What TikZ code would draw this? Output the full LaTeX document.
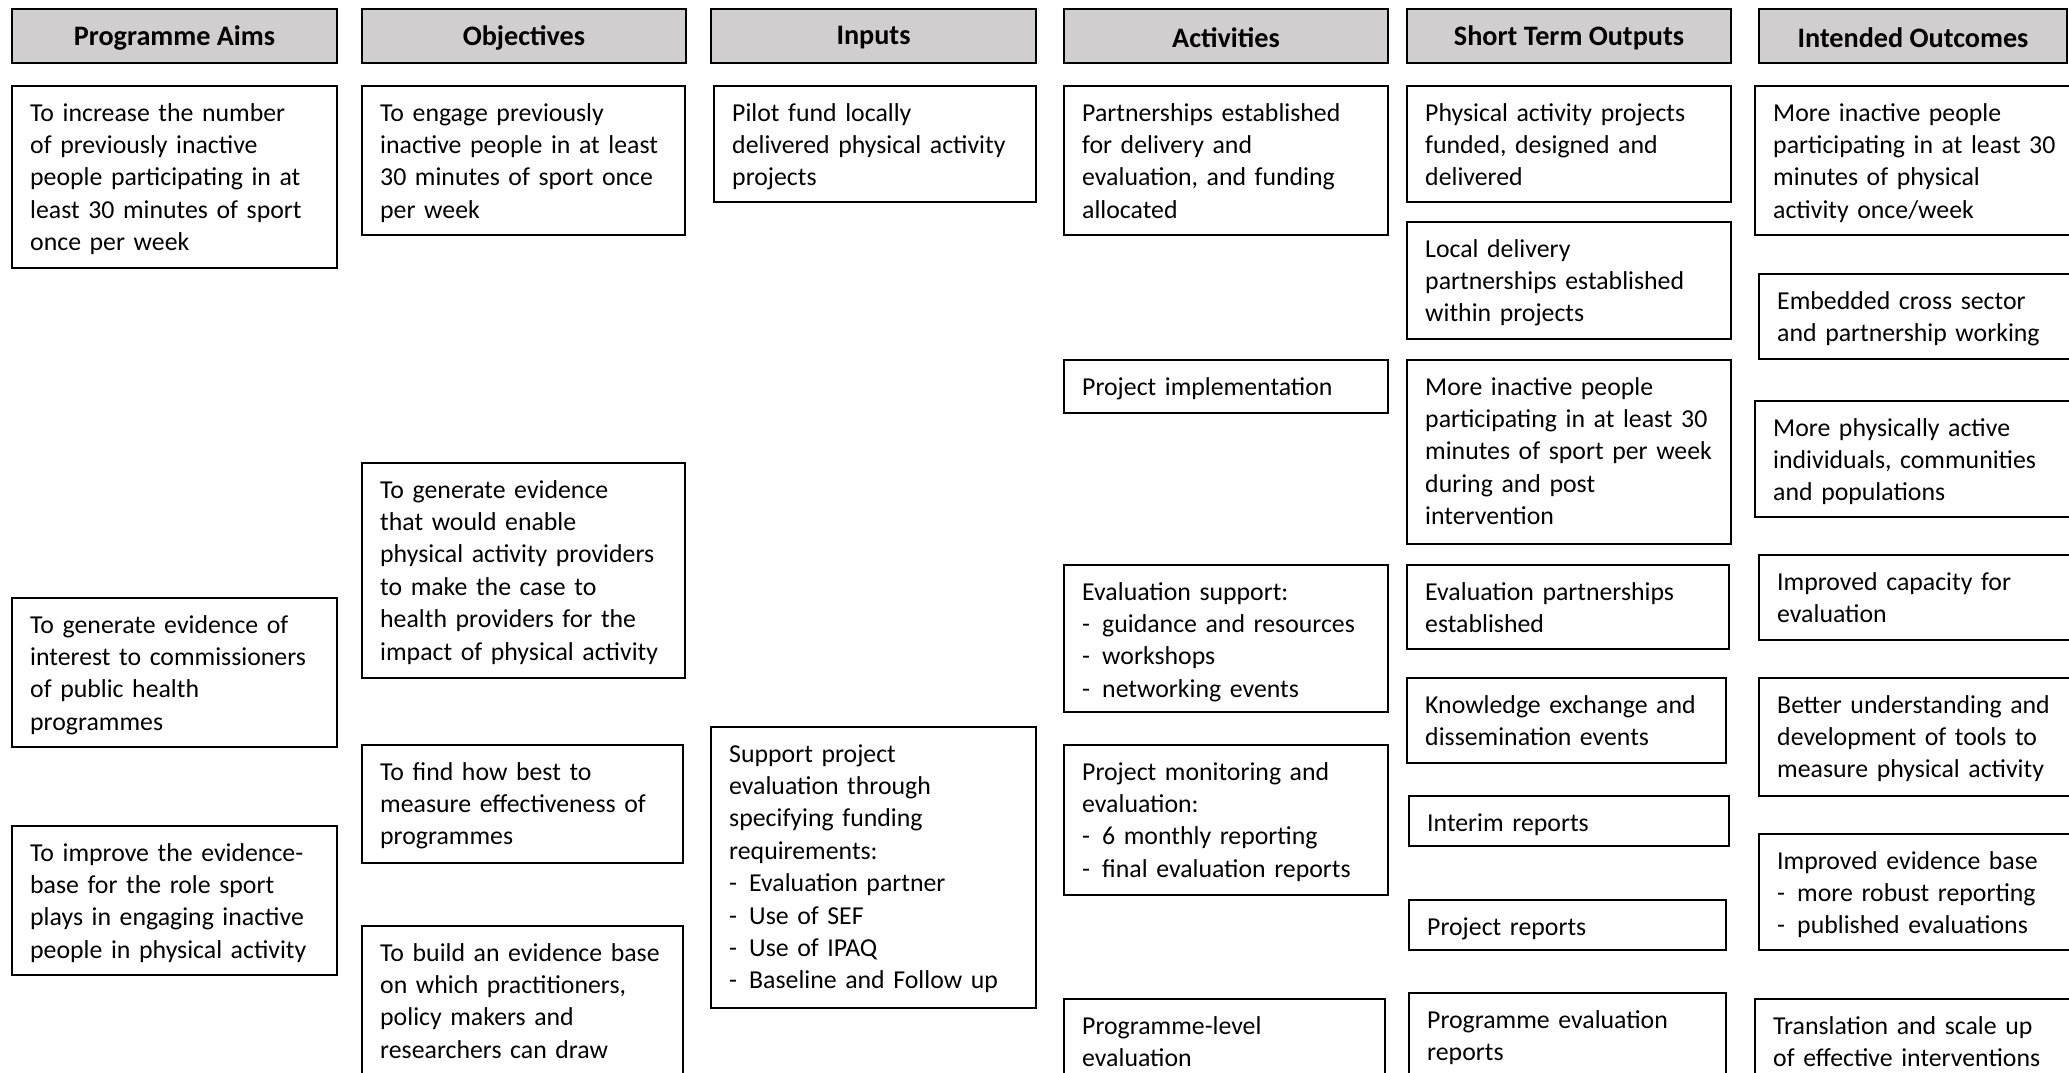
\documentclass[tikz,border=0pt]{standalone}
\usepackage{fontspec}
\setmainfont{Carlito}
\definecolor{hdrgray}{HTML}{D0CECE}
\tikzset{
  boxline/.style={draw=black, line width=1.8pt},
  hdrbox/.style={draw=black, line width=1.8pt, fill=hdrgray},
  txt/.style={inner sep=0pt, text width=420pt, align=left,
    font=\fontsize{25.8}{32.4}\selectfont, anchor=base west},
  hdrtxt/.style={inner sep=0pt, font=\bfseries\fontsize{28.2}{33}\selectfont},
}
\newcommand\bx[6]{%
  \path (#2,#3) coordinate (#1nw) (#4,#5) coordinate (#1se);
  \draw[boxline] (#1nw) rectangle (#1se);
  \node[txt] (#1) at ([xshift=18pt,yshift=-35pt]#1nw) {#6};
}
\newcommand\hd[4]{%
  \path (#2,9) coordinate (#1nw) (#3,63) coordinate (#1se);
  \draw[hdrbox] (#1nw) rectangle (#1se);
  \node[hdrtxt] (#1) at ({(#2+#3)/2},38) {#4};
}
\newcommand\dsh{\makebox[20pt][l]{-}}
\begin{document}
\begin{tikzpicture}[x=1pt,y=-1pt]
\useasboundingbox (0,0) rectangle (2069,1073);
\clip (0,0) rectangle (2069,1073);
% headers
\hd{h1}{12}{337}{Programme Aims}
\hd{h2}{362}{686}{Objectives}
\hd{h3}{711}{1036}{Inputs}
\hd{h4}{1064}{1388}{Activities}
\hd{h5}{1407}{1731}{Short Term Outputs}
\hd{h6}{1759}{2067}{Intended Outcomes}
% programme aims
\bx{a1}{12}{86}{337}{268}{To increase the number\\of previously inactive\\people participating in at\\least 30 minutes of sport\\once per week}
\bx{a2}{12}{598}{337}{747}{To generate evidence of\\interest to commissioners\\of public health\\programmes}
\bx{a3}{12}{826}{337}{975}{To improve the evidence-\\base for the role sport\\plays in engaging inactive\\people in physical activity}
% objectives
\bx{o1}{362}{86}{685}{235}{To engage previously\\inactive people in at least\\30 minutes of sport once\\per week}
\bx{o2}{362}{463}{685}{678}{To generate evidence\\that would enable\\physical activity providers\\to make the case to\\health providers for the\\impact of physical activity}
\bx{o3}{362}{745}{683}{863}{To find how best to\\measure effectiveness of\\programmes}
\bx{o4}{362}{926}{683}{1090}{To build an evidence base\\on which practitioners,\\policy makers and\\researchers can draw}
% inputs
\bx{i1}{714}{86}{1036}{202}{Pilot fund locally\\delivered physical activity\\projects}
\bx{i2}{711}{727}{1036}{1008}{Support project\\evaluation through\\specifying funding\\requirements:\\\dsh Evaluation partner\\\dsh Use of SEF\\\dsh Use of IPAQ\\\dsh Baseline and Follow up}
% activities
\bx{c1}{1064}{86}{1388}{235}{Partnerships established\\for delivery and\\evaluation, and funding\\allocated}
\bx{c2}{1064}{360}{1388}{413}{Project implementation}
\bx{c3}{1064}{565}{1388}{712}{Evaluation support:\\\dsh guidance and resources\\\dsh workshops\\\dsh networking events}
\bx{c4}{1064}{745}{1388}{895}{Project monitoring and\\evaluation:\\\dsh 6 monthly reporting\\\dsh final evaluation reports}
\bx{c5}{1064}{999}{1385}{1090}{Programme-level\\evaluation}
% short term outputs
\bx{s1}{1407}{86}{1731}{202}{Physical activity projects\\funded, designed and\\delivered}
\bx{s2}{1407}{222}{1731}{339}{Local delivery\\partnerships established\\within projects}
\bx{s3}{1407}{360}{1731}{544}{More inactive people\\participating in at least 30\\minutes of sport per week\\during and post\\intervention}
\bx{s4}{1407}{565}{1729}{649}{Evaluation partnerships\\established}
\bx{s5}{1407}{678}{1726}{763}{Knowledge exchange and\\dissemination events}
\bx{s6}{1409}{796}{1729}{846}{Interim reports}
\bx{s7}{1409}{900}{1726}{950}{Project reports}
\bx{s8}{1409}{993}{1726}{1090}{Programme evaluation\\reports}
% intended outcomes
\bx{u1}{1755}{86}{2090}{235}{More inactive people\\participating in at least 30\\minutes of physical\\activity once/week}
\bx{u2}{1759}{274}{2090}{359}{Embedded cross sector\\and partnership working}
\bx{u3}{1755}{401}{2090}{517}{More physically active\\individuals, communities\\and populations}
\bx{u4}{1759}{555}{2090}{640}{Improved capacity for\\evaluation}
\bx{u5}{1759}{678}{2090}{796}{Better understanding and\\development of tools to\\measure physical activity}
\bx{u6}{1759}{834}{2090}{950}{Improved evidence base\\\dsh more robust reporting\\\dsh published evaluations}
\bx{u7}{1755}{999}{2090}{1090}{Translation and scale up\\of effective interventions}
\end{tikzpicture}
\end{document}
